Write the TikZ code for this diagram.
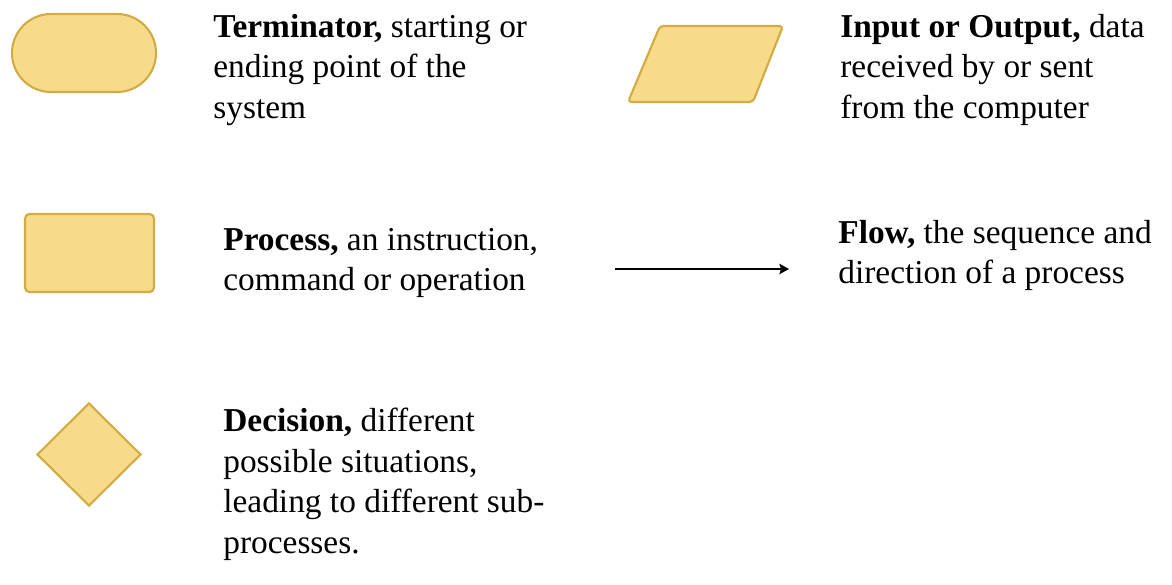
\documentclass[tikz,border=0pt]{standalone}
\usepackage{fontspec}
\setmainfont{Liberation Serif}
\usepackage{tikz}
\usetikzlibrary{calc, shapes, arrows, arrows.meta}
\usetikzlibrary{positioning}
\definecolor{symbolfill}{HTML}{F8DA8B}
\definecolor{symbolline}{HTML}{D2AC42}
\tikzstyle{symbol} = [draw=symbolline, fill=symbolfill, line width=1.2pt, inner sep=0pt]
\tikzstyle{legend} = [anchor=north west, align=left, inner sep=0pt, font=\fontsize{19}{23}\selectfont]

\begin{document}
\begin{tikzpicture}
        \useasboundingbox (0, 0) rectangle (23.44, -11.68);

        \node[symbol, rounded rectangle, minimum width=2.88cm, minimum height=1.56cm] at (1.68, -1.06) (Terminator) {};
        \node[symbol, rectangle, rounded corners=2.5pt, minimum width=2.58cm, minimum height=1.56cm] at (1.79, -5.06) (Process) {};
        \node[symbol, diamond, minimum width=2.08cm, minimum height=2.06cm] at (1.78, -9.09) (Decision) {};
        % input / output parallelogram
        \draw[symbol, rounded corners=2pt] (13.2, -0.52) -- (15.66, -0.52) -- (15.06, -2.04) -- (12.56, -2.04) -- cycle;

        \coordinate (FlowStart) at (12.3, -5.38);
        \coordinate (FlowEnd) at (15.78, -5.38);
        \draw[-{Stealth[length=5.5pt, width=6pt, inset=1pt]}, line width=0.8pt] (FlowStart) -- (FlowEnd);

        \node[legend] at (4.26, -0.28) (TerminatorText) {\textbf{Terminator,} starting or\\ending point of the\\system};
        \node[legend] at (16.8, -0.28) (InputOutputText) {\textbf{Input or Output,} data\\received by or sent\\from the computer};
        \node[legend] at (4.46, -4.56) (ProcessText) {\textbf{Process,} an instruction,\\command or operation};
        \node[legend] at (16.76, -4.4) (FlowText) {\textbf{Flow,} the sequence and\\direction of a process};
        \node[legend] at (4.46, -8.16) (DecisionText) {\textbf{Decision,} different\\possible situations,\\leading to different sub-\\processes.};

    \end{tikzpicture}
\end{document}
